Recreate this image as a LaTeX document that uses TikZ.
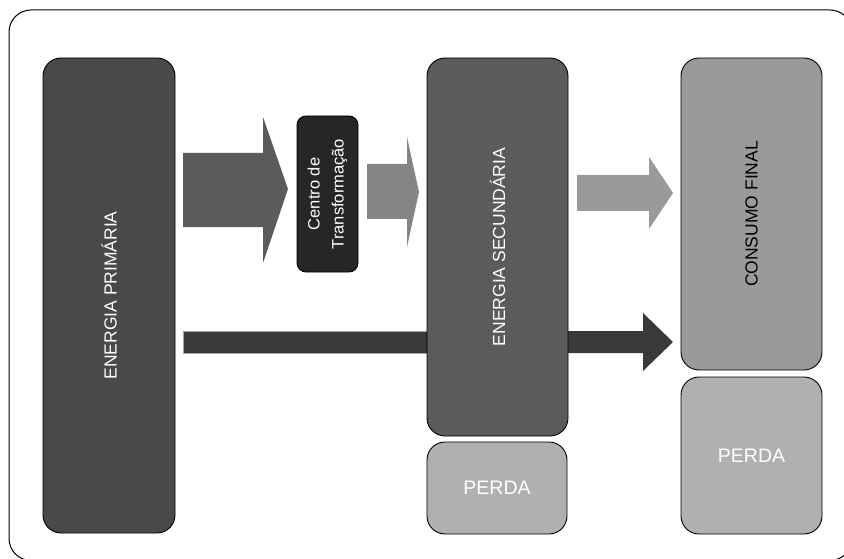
\documentclass[tikz,border=0pt]{standalone}
\usepackage{fontspec}
\setmainfont{Liberation Sans}
\begin{document}
\begin{tikzpicture}[x=1pt,y=-1pt,
  box/.style={draw=black, line width=0.9pt, rounded corners=18pt, inner sep=0pt, text=white},
  bigtext/.style={font=\fontsize{17.5}{21}\selectfont},
  arr/.style={draw=none}
]
\useasboundingbox (0,0) rectangle (844,559);
\definecolor{cPrim}{HTML}{494949}
\definecolor{cSec}{HTML}{5B5B5B}
\definecolor{cCons}{HTML}{9A9A9A}
\definecolor{cPerda}{HTML}{B0B0B0}
\definecolor{cCentro}{HTML}{262626}
\definecolor{cArrA}{HTML}{5B5B5B}
\definecolor{cArrB}{HTML}{858585}
\definecolor{cArrC}{HTML}{9A9A9A}
\definecolor{cArrD}{HTML}{393939}
% outer frame
\begin{scope}
\clip (0,0) rectangle (844,559);
\draw[line width=1pt, rounded corners=22pt] (9,10) rectangle (852,560.5);
\end{scope}
% long dark arrow (behind secondary box)
\fill[cArrD] (183,331) -- (643,331) -- (643,313) -- (673,342) -- (643,371) -- (643,353) -- (183,353) -- cycle;
\draw[gray!70, line width=0.5pt] (183,331) -- (427,331) (183,353) -- (427,353) (183,331) -- (183,353);
% boxes
\node[box, bigtext, fill=cPrim, rotate=90, minimum width=475pt, minimum height=132pt] (prim) at (109,295.5) {ENERGIA PRIMÁRIA};
\node[box, bigtext, fill=cSec, rotate=90, minimum width=378pt, minimum height=141pt] (sec) at (497.5,247) {ENERGIA SECUNDÁRIA};
\node[box, bigtext, fill=cCons, text=black, rotate=90, minimum width=312pt, minimum height=141pt] (cons) at (751.5,214) {CONSUMO FINAL};
\node[box, fill=cPerda, minimum width=140pt, minimum height=92pt, font=\fontsize{19.5}{23}\selectfont] (perda1) at (497,488) {PERDA};
\node[box, fill=cPerda, minimum width=141pt, minimum height=157pt, font=\fontsize{19.5}{23}\selectfont] (perda2) at (751.5,455.5) {PERDA};
\node[box, fill=cCentro, rounded corners=9pt, rotate=90, minimum width=156pt, minimum height=61pt, align=center, font=\fontsize{16.5}{24}\selectfont] (centro) at (327.5,194) {Centro de\\Transformação};
% block arrows
\fill[cArrA] (183,153) -- (263,153) -- (263,117) -- (288,189) -- (263,263) -- (263,227) -- (183,227) -- cycle;
\fill[cArrB] (367,164) -- (407,164) -- (407,137) -- (419,192) -- (407,247) -- (407,219) -- (367,219) -- cycle;
\fill[cArrC] (577,175) -- (649,175) -- (649,157) -- (673,193) -- (649,229) -- (649,211) -- (577,211) -- cycle;
\end{tikzpicture}
\end{document}
